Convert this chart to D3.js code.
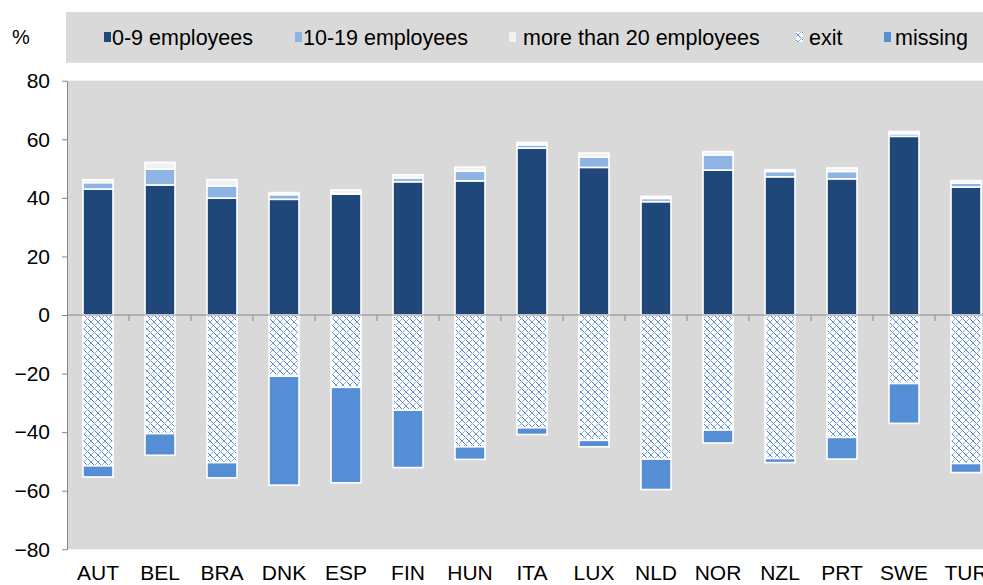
<!DOCTYPE html>
<html>
<head>
<meta charset="utf-8">
<script src="https://cdn.jsdelivr.net/npm/d3@7"></script>
<style>
  html, body { margin: 0; padding: 0; background: #fff; }
  svg { display: block; font-family: "Liberation Sans", Arial, sans-serif; }
</style>
</head>
<body>
<svg id="chart" width="983" height="585"></svg>
<script>
const countries = ["AUT","BEL","BRA","DNK","ESP","FIN","HUN","ITA","LUX","NLD","NOR","NZL","PRT","SWE","TUR"];
const emp0to9   = [43.0, 44.4, 39.9, 39.5, 41.3, 45.5, 45.8, 57.0, 50.4, 38.7, 49.5, 47.2, 46.5, 61.0, 43.7];
const emp10to19 = [ 2.2,  5.4,  4.2,  1.6,  0.2,  1.3,  3.3,  1.1,  3.5,  1.1,  5.2,  1.8,  2.5,  0.9,  1.3];
const empOver20 = [ 1.0,  2.3,  2.1,  0.7,  1.2,  1.1,  1.4,  0.8,  1.4,  0.7,  1.1,  0.6,  1.2,  0.7,  0.9];
const exitVals  = [-51.5,-40.5,-50.4,-20.9,-24.7,-32.5,-45.0,-38.5,-42.8,-49.2,-39.3,-49.0,-41.8,-23.4,-50.7];
const missing   = [-3.8, -7.4, -5.2,-37.2,-32.6,-19.6, -4.3, -2.3, -2.2,-10.4, -4.4, -1.4, -7.4,-13.6, -3.1];
const yTicks = [-80,-60,-40,-20,0,20,40,60,80];
const seriesNames = ["0-9 employees","10-19 employees","more than 20 employees","exit","missing"];

const keys = ["a","b","c","exit","missing"];
const colors = {a:"#1F4779", b:"#8EB4E3", c:"#F2F2F2", exit:"url(#hatch)", missing:"#558ED5"};

const rows = countries.map((c,i)=>({country:c, a:emp0to9[i], b:emp10to19[i], c:empOver20[i], exit:exitVals[i], missing:missing[i]}));

const svg = d3.select("#chart");
const defs = svg.append("defs");
const P = 7;
const pat = defs.append("pattern").attr("id","hatch").attr("patternUnits","userSpaceOnUse")
  .attr("width",P).attr("height",P);
pat.append("rect").attr("width",P).attr("height",P).attr("fill","#fff");
pat.append("path").attr("d",`M0,0L${P},${P}M-1,${P-1}L1,${P+1}M${P-1},-1L${P+1},1`).attr("stroke","#4a7ec8").attr("stroke-width",1).attr("fill","none");
pat.append("path").attr("d",`M0,${P}L${P},0M-1,1L1,-1M${P-1},${P+1}L${P+1},${P-1}`).attr("stroke","#8fb1e0").attr("stroke-width",1).attr("fill","none");

const pLeft = 67, pRight = 997, pTop = 80.7, pBottom = 549.3;
const x = d3.scaleBand().domain(countries).range([pLeft,pRight]).paddingInner(0.5).paddingOuter(0.25);
const y = d3.scaleLinear().domain([-80,80]).range([pBottom,pTop]);

// plot background
svg.append("rect").attr("x",pLeft).attr("y",pTop).attr("width",983-pLeft).attr("height",pBottom-pTop).attr("fill","#D9D9D9");

// legend box
svg.append("rect").attr("x",66).attr("y",12).attr("width",983-66).attr("height",50.7).attr("fill","#D9D9D9");
svg.append("text").attr("x",12).attr("y",44).attr("font-size",20).attr("fill","#000").text("%");
const legX = [104, 295, 509, 796, 884];
const legTextX = [112, 303, 523, 809, 895];
seriesNames.forEach((name,i)=>{
  const g = svg.append("g");
  g.append("rect").attr("x",legX[i]).attr("y",32).attr("width",7).attr("height",10)
    .attr("fill",colors[keys[i]]);
  g.append("text").attr("x",legTextX[i]).attr("y",44.5).attr("font-size",21.5).attr("fill","#000").text(name);
});

// stacks
const stack = d3.stack().keys(keys).offset(d3.stackOffsetDiverging);
const series = stack(rows);
const bw = 30;
svg.append("g").selectAll("g").data(series).join("g")
  .attr("fill", d=>colors[d.key])
  .selectAll("rect").data(d=>d).join("rect")
  .attr("x", d=>x(d.data.country) + x.bandwidth()/2 - bw/2)
  .attr("width", bw)
  .attr("y", d=>y(Math.max(d[0],d[1])))
  .attr("height", d=>Math.abs(y(d[0])-y(d[1])))
  .attr("stroke","#fff").attr("stroke-width",1.6);

// y axis
const yAxis = svg.append("g").attr("transform",`translate(${pLeft},0)`)
  .call(d3.axisLeft(y).tickValues(yTicks).tickSize(5).tickSizeOuter(0).tickPadding(12));
yAxis.select(".domain").attr("stroke","#868686");
yAxis.selectAll(".tick line").attr("stroke","#868686");
yAxis.selectAll(".tick text").attr("font-size",21).attr("fill","#000").attr("font-family","Liberation Sans, Arial, sans-serif");

// zero line
svg.append("line").attr("x1",pLeft).attr("x2",983).attr("y1",y(0)).attr("y2",y(0)).attr("stroke","#868686").attr("stroke-width",1);
// category boundary ticks
const step = x.step();
const bounds = countries.slice(1).map(c => x(c) - (step - x.bandwidth())/2);
svg.append("g").selectAll("line").data(bounds).join("line")
  .attr("x1",d=>d).attr("x2",d=>d).attr("y1",y(0)).attr("y2",y(0)+6)
  .attr("stroke","#868686").attr("stroke-width",1);

// x labels
svg.append("g").selectAll("text").data(countries).join("text")
  .attr("x", d=>x(d)+x.bandwidth()/2).attr("y",580)
  .attr("text-anchor","middle").attr("font-size",21).attr("fill","#000").text(d=>d);
</script>
</body>
</html>
